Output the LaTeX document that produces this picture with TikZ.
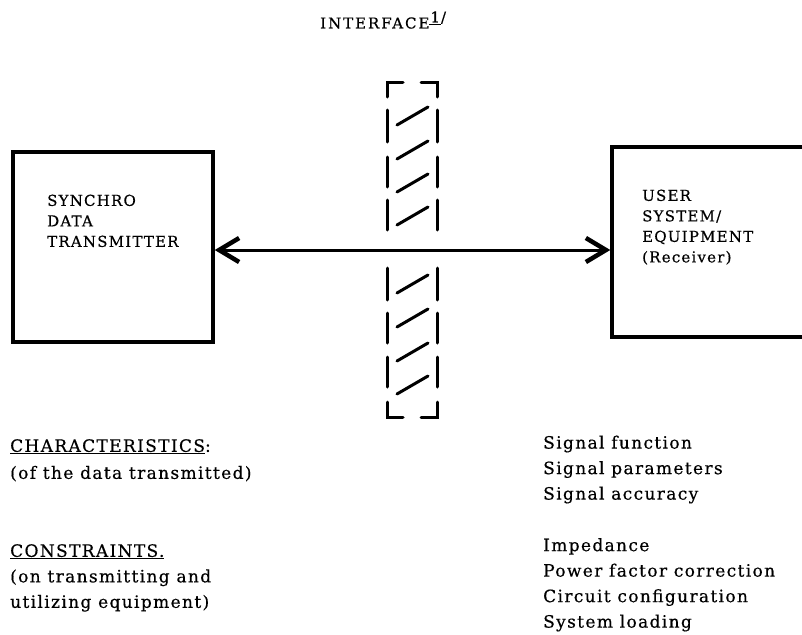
\documentclass[tikz,border=0pt]{standalone}
\usepackage{fontspec}
\setmainfont{DejaVu Serif}
\newfontfamily\spaced[LetterSpace=8,FakeBold=0.5]{DejaVu Serif}
\newfontfamily\listed[LetterSpace=8,FakeBold=0.5]{DejaVu Serif}
\newfontfamily\widely[LetterSpace=13,FakeBold=0.5]{DejaVu Serif}
\usetikzlibrary{arrows.meta}

\begin{document}
\begin{tikzpicture}[x=1pt,y=-1pt,
  box/.style={draw,line width=3.5pt,inner sep=0pt},
  boxtext/.style={anchor=north west,align=left,inner sep=0pt,font=\spaced\fontsize{15}{20.5}\selectfont},
  listtext/.style={anchor=north west,align=left,inner sep=0pt,font=\listed\fontsize{17}{25.5}\selectfont},
  wall/.style={line width=3pt,line cap=round},
  link/.style={line width=3pt,{Straight Barb[length=20pt,width=24pt,line width=4.5pt]}-{Straight Barb[length=20pt,width=24pt,line width=4.5pt]}}]

\useasboundingbox (0,0) rectangle (802,634);
\clip (0,0) rectangle (802,634);

\node[anchor=base west,inner sep=0pt,font=\widely\fontsize{15}{20}\selectfont] (hdr) at (320,28.5)
  {INTERFACE\raisebox{6pt}{\underline{\kern1pt 1\kern1pt}/}};

\node[box,minimum width=200pt,minimum height=190pt] (tx) at (113,247) {};
\node[box,minimum width=220pt,minimum height=190pt] (rx) at (722,242) {};

\node[boxtext] (txname) at (47,194.5) {SYNCHRO\\DATA\\TRANSMITTER};
\node[boxtext] (rxname) at (642,189.5) {USER\\SYSTEM/\\EQUIPMENT\\(Receiver)};

\coordinate (hub) at (412,250);
\draw[link] (hub -| tx.east) -- (hub -| rx.west);

\foreach \c in {116,150,183,216,284,318,352,385}
  \draw[wall] (397,\c+9) -- (428,\c-9);
\foreach \a/\b in {110/142,157/187,200/230,268/300,313/343,357/387}{
  \draw[wall] (387,\a) -- (387,\b);
  \draw[wall] (437,\a) -- (437,\b);
}
\draw[wall] (387,97) -- (387,82) -- (403,82);
\draw[wall] (421,82) -- (437,82) -- (437,97);
\draw[wall] (387,402) -- (387,417) -- (403,417);
\draw[wall] (421,417) -- (437,417) -- (437,402);

\node[listtext] (chars) at (10,439) {\underline{CHARACTERISTICS}:\\[1.5pt](of the data transmitted)};
\node[listtext] (limits) at (10,544) {\underline{CONSTRAINTS.}\\(on transmitting and\\utilizing equipment)};
\node[listtext] (signal) at (543,435.5) {Signal function\\Signal parameters\\Signal accuracy};
\node[listtext] (load) at (543,538) {Impedance\\Power factor correction\\Circuit configuration\\System loading};

\end{tikzpicture}
\end{document}
